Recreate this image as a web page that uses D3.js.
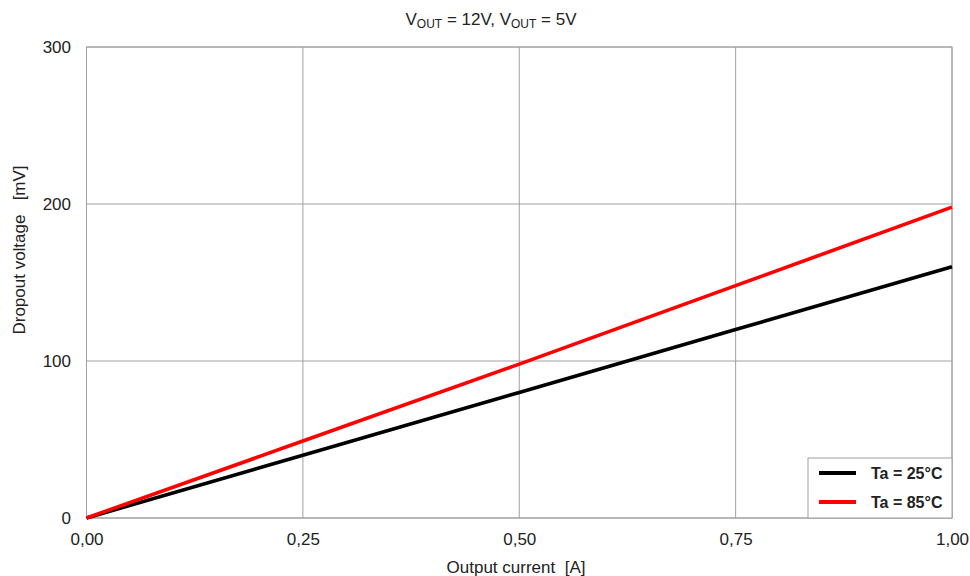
<!DOCTYPE html>
<html><head><meta charset="utf-8">
<script src="https://cdn.jsdelivr.net/npm/d3@7"></script>
<style>body{margin:0;background:#fff;} text{font-family:"Liberation Sans",Arial,sans-serif;fill:#222;}</style>
</head><body>
<svg id="c" width="970" height="576"></svg>
<script>
const currents = [0, 0.25, 0.5, 0.75, 1.0];
const drop25 = [0, 40, 80, 120, 160];
const drop85 = [0, 49, 98, 148, 198];
const xTicks = [0, 0.25, 0.5, 0.75, 1.0];
const yTicks = [0, 100, 200, 300];
const seriesNames = ["Ta = 25°C", "Ta = 85°C"];
const seriesColors = ["#000000", "#ff0000"];

const svg = d3.select("#c");
const L = 86.5, R = 952, T = 47, B = 518;
const x = d3.scaleLinear().domain([0, 1]).range([L, R]);
const y = d3.scaleLinear().domain([0, 300]).range([B, T]);
const grid = "#a0a0a0";
const FF = "Liberation Sans, Arial, sans-serif";

// grid
svg.append("g").selectAll("line").data(xTicks).join("line")
  .attr("x1", d => x(d)).attr("x2", d => x(d)).attr("y1", T).attr("y2", B)
  .attr("stroke", grid).attr("stroke-width", 1);
svg.append("g").selectAll("line").data(yTicks).join("line")
  .attr("y1", d => y(d)).attr("y2", d => y(d)).attr("x1", L).attr("x2", R)
  .attr("stroke", grid).attr("stroke-width", 1);
svg.append("rect").attr("x", L).attr("y", T).attr("width", R - L).attr("height", B - T)
  .attr("fill", "none").attr("stroke", grid);

// axes labels
const fmt = d => d.toFixed(2).replace(".", ",");
const xa = svg.append("g").attr("transform", `translate(0,${B})`)
  .call(d3.axisBottom(x).tickValues(xTicks).tickFormat(fmt).tickSize(0).tickPadding(15));
xa.select(".domain").remove();
xa.selectAll("text").style("font-size", "17px").attr("fill", "#222").style("font-family", FF);
const ya = svg.append("g").attr("transform", `translate(${L},0)`)
  .call(d3.axisLeft(y).tickValues(yTicks).tickSize(0).tickPadding(15.5));
ya.select(".domain").remove();
ya.selectAll("text").style("font-size", "17px").attr("fill", "#222").style("font-family", FF);

// lines
const series = [drop25, drop85];
const line = d3.line().x((d, i) => x(currents[i])).y(d => y(d));
series.forEach((s, k) => {
  svg.append("path").datum(s).attr("d", line).attr("fill", "none")
    .attr("stroke", seriesColors[k]).attr("stroke-width", 3.6);
});

// title
const title = svg.append("text").attr("x", 491).attr("y", 25).attr("text-anchor", "middle").style("font-size", "17px");
title.append("tspan").text("V");
title.append("tspan").attr("dy", 3).style("font-size", "12px").text("OUT");
title.append("tspan").attr("dy", -3).text(" = 12V, V");
title.append("tspan").attr("dy", 3).style("font-size", "12px").text("OUT");
title.append("tspan").attr("dy", -3).text(" = 5V");

svg.append("text").attr("x", 516).attr("y", 573).attr("text-anchor", "middle")
  .style("font-size", "17px").attr("xml:space", "preserve").text("Output current  [A]");
svg.append("text").attr("transform", "translate(25,250) rotate(-90)").attr("text-anchor", "middle")
  .style("font-size", "17px").attr("xml:space", "preserve").text("Dropout voltage   [mV]");

// legend
const lg = svg.append("g");
lg.append("rect").attr("x", 808).attr("y", 458).attr("width", R - 808).attr("height", B - 458)
  .attr("fill", "#fff").attr("stroke", grid);
seriesNames.forEach((n, k) => {
  const ly = 473 + k * 29;
  lg.append("line").attr("x1", 819).attr("x2", 856).attr("y1", ly).attr("y2", ly)
    .attr("stroke", seriesColors[k]).attr("stroke-width", 4);
  lg.append("text").attr("x", 871).attr("y", ly + 6).style("font-size", "16px").style("font-weight", "bold").text(n);
});
</script>
</body></html>
